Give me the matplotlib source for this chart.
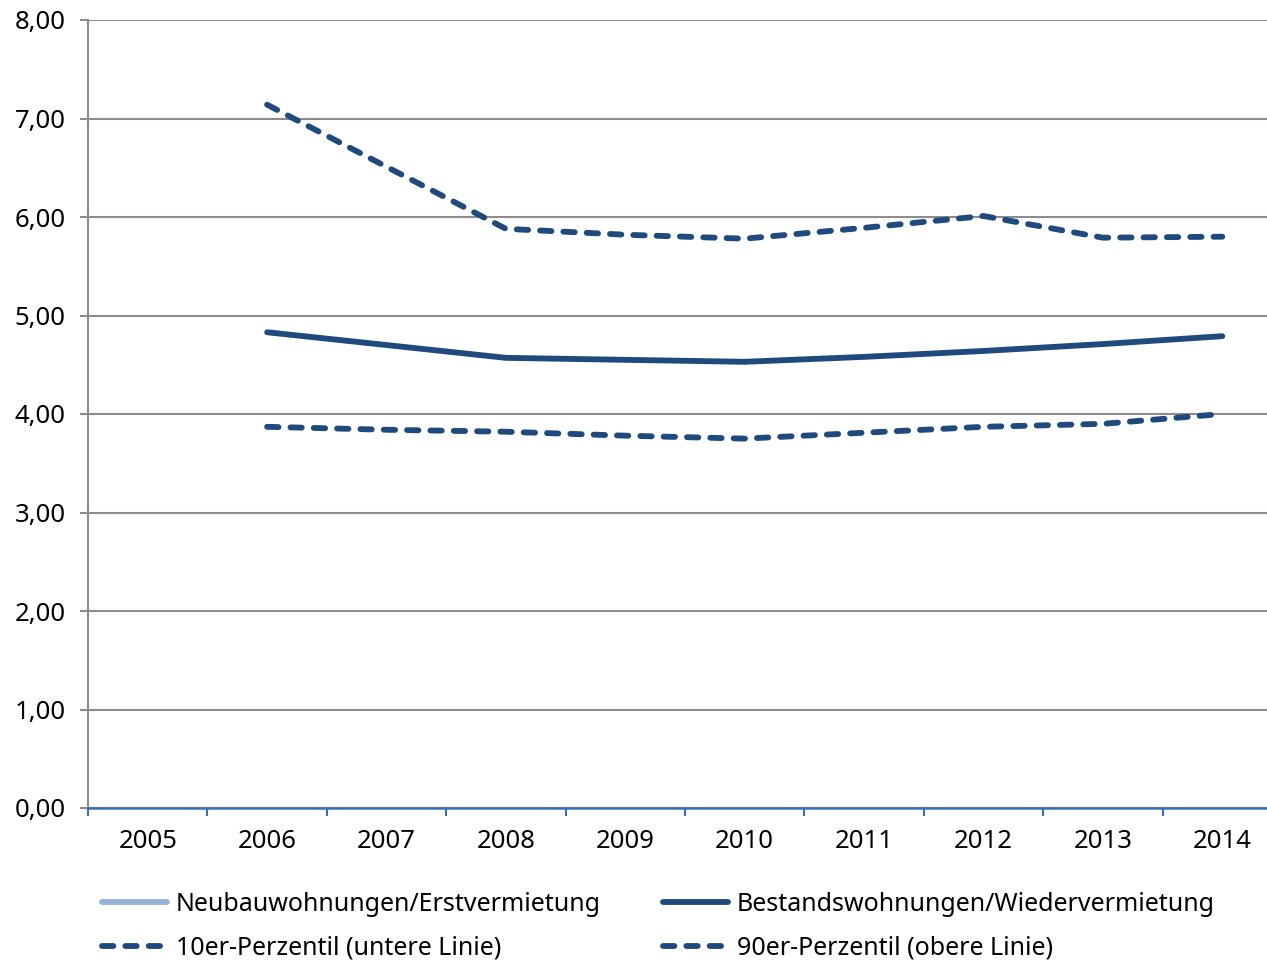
import matplotlib
matplotlib.use("Agg")
import matplotlib.pyplot as plt
from matplotlib.lines import Line2D

years = ["2005", "2006", "2007", "2008", "2009", "2010", "2011", "2012", "2013", "2014"]
neubau = [None] * 10
bestand = [None, 4.83, 4.70, 4.57, 4.55, 4.53, 4.58, 4.64, 4.71, 4.79]
p10 = [None, 3.87, 3.84, 3.82, 3.78, 3.75, 3.81, 3.87, 3.90, 4.00]
p90 = [None, 7.14, 6.51, 5.88, 5.82, 5.78, 5.89, 6.01, 5.79, 5.80]
yticks = [0, 1, 2, 3, 4, 5, 6, 7, 8]
ytick_labels = ["0,00", "1,00", "2,00", "3,00", "4,00", "5,00", "6,00", "7,00", "8,00"]
labels = ["Neubauwohnungen/Erstvermietung", "Bestandswohnungen/Wiedervermietung",
          "10er-Perzentil (untere Linie)", "90er-Perzentil (obere Linie)"]

plt.rcParams['font.family'] = ['Noto Sans', 'DejaVu Sans']
W, H = 1267, 960
fig = plt.figure(figsize=(W / 100, H / 100), dpi=100)
left, right, top, bottom = 88, 1282, 20, 808
ax = fig.add_axes([left / W, 1 - bottom / H, (right - left) / W, (bottom - top) / H])

dark = "#1f4a7e"
light = "#95b3d7"
x = list(range(len(years)))

def series(vals):
    xs = [i for i, v in zip(x, vals) if v is not None]
    ys = [v for v in vals if v is not None]
    return xs, ys

lw = 4.2
dash = (1.95, 2.05)
ax.plot(*series(neubau), color=light, lw=lw)
ax.plot(*series(bestand), color=dark, lw=lw, solid_capstyle="round", solid_joinstyle="round")
ax.plot(*series(p10), color=dark, lw=lw, dashes=dash, dash_capstyle="round")
ax.plot(*series(p90), color=dark, lw=lw, dashes=dash, dash_capstyle="round")

ax.set_xlim(-0.5, len(years) - 0.5)
ax.set_ylim(0, 8)
ax.set_yticks(yticks)
ax.set_yticklabels(ytick_labels)
ax.yaxis.grid(True, color="#8c8c8c", lw=1.5)
ax.set_axisbelow(True)

ax.set_xticks([i - 0.5 for i in x])
ax.set_xticklabels([])
ax.set_xticks(x, minor=True)
ax.set_xticklabels(years, minor=True)
ax.tick_params(axis="x", which="major", direction="out", length=6, width=1.5, color="#3a70b5")
ax.tick_params(axis="x", which="minor", length=0, pad=15, labelsize=18.5)
ax.tick_params(axis="y", direction="out", length=6, width=1.5, color="#8c8c8c", pad=10, labelsize=18.5)

for s in ["top", "right"]:
    ax.spines[s].set_visible(False)
ax.spines["left"].set_color("#8c8c8c")
ax.spines["left"].set_linewidth(1.5)
ax.spines["bottom"].set_color("#3a70b5")
ax.spines["bottom"].set_linewidth(1.8)
ax.spines["bottom"].set_zorder(5)

handles = [
    Line2D([], [], color=light, lw=lw, solid_capstyle="round"),
    Line2D([], [], color=dark, lw=lw, dashes=dash, dash_capstyle="round"),
    Line2D([], [], color=dark, lw=lw, solid_capstyle="round"),
    Line2D([], [], color=dark, lw=lw, dashes=dash, dash_capstyle="round"),
]
leg_labels = [labels[0], labels[2], labels[1], labels[3]]
fig.legend(handles, leg_labels, ncol=2, loc="upper left",
           bbox_to_anchor=(102 / W, 1 - 892 / H), frameon=False, fontsize=18,
           handlelength=2.6, handletextpad=0.35, columnspacing=2.5, labelspacing=0.75,
           borderaxespad=0, borderpad=0)

fig.savefig("out.png", dpi=100)
